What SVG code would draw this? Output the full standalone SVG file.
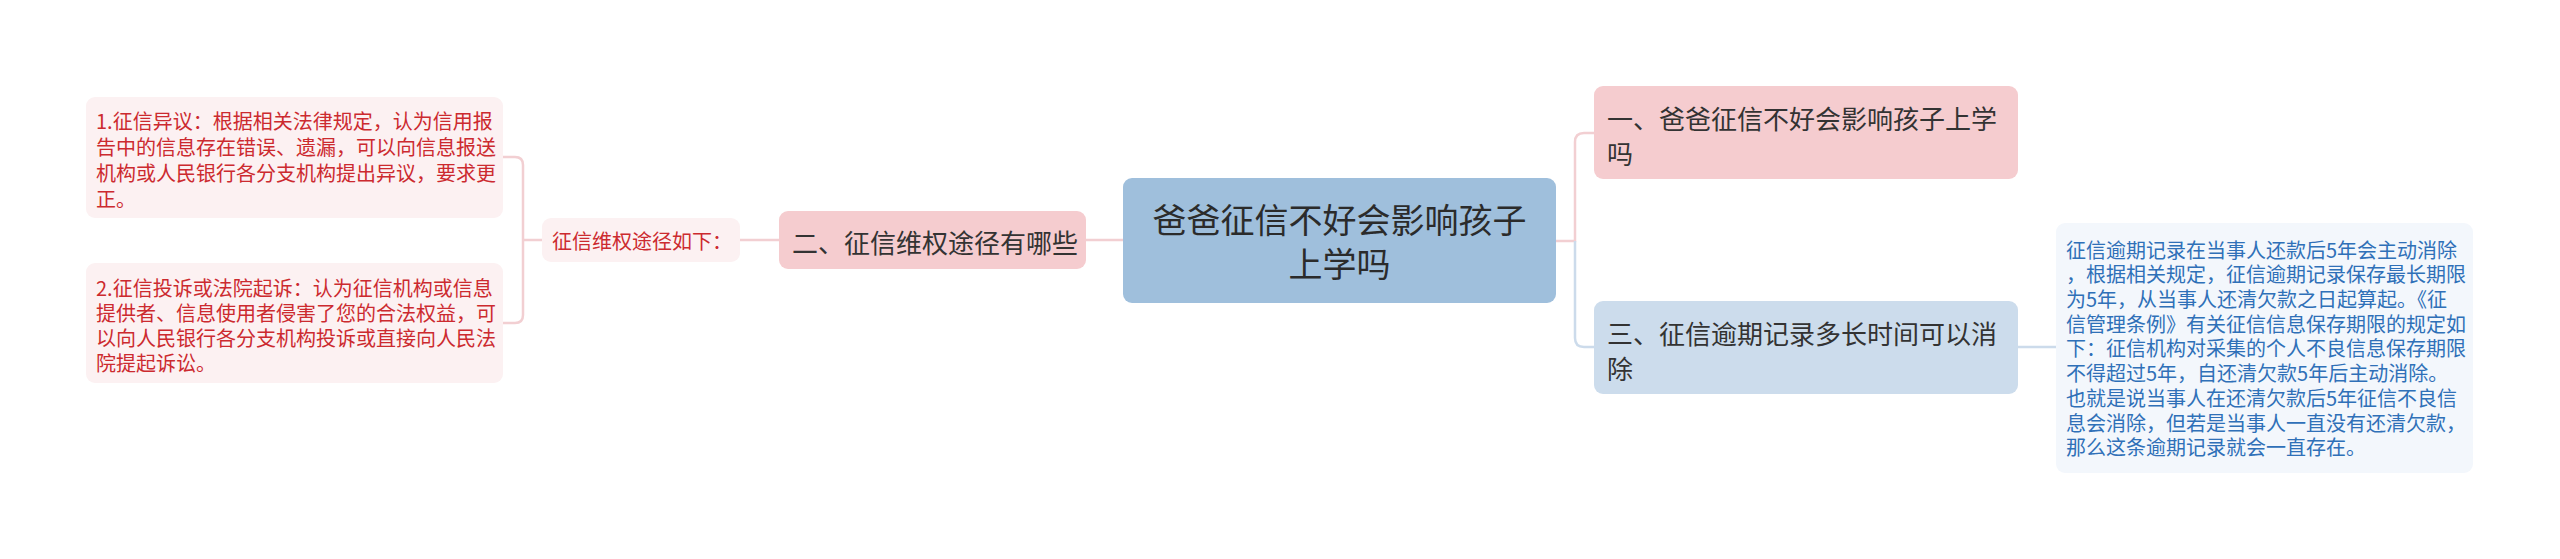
<svg xmlns="http://www.w3.org/2000/svg" width="2560" height="559" viewBox="0 0 2560 559">
<style>
text{font-family:"Noto Sans CJK SC","Noto Sans",sans-serif;dominant-baseline:central}
.conn{fill:none;stroke-width:2.5}
.pk{stroke:#f2cfd2}
.bl{stroke:#ccdbeb}
.leaf{fill:#fcf1f2}
.leaft{fill:#cc2a2f;font-size:20px}
.l1p{fill:#f5cccf}
.l1b{fill:#ccdcec}
.l1t{fill:#333333;font-size:26px}
.note{fill:#f3f7fc}
.notet{fill:#2f70b8;font-size:20px}
</style>
<rect width="2560" height="559" fill="#ffffff"/>
<g id="connectors">
<path class="conn pk" d="M1086 240 H1123"/>
<path class="conn pk" d="M740 240 H779"/>
<path class="conn pk" d="M503 157 H515 Q523 157 523 165 V315 Q523 323 515 323 H503"/>
<path class="conn pk" d="M523 240 H542"/>
<path class="conn pk" d="M1556 241 H1575 V142 Q1575 133 1584 133 H1594"/>
<path class="conn bl" d="M1575 241 V338 Q1575 347 1584 347 H1594"/>
<path class="conn bl" d="M2018 347 H2056"/>
</g>
<g id="root">
<rect x="1123" y="178" width="433" height="125" rx="9" fill="#9fbfdc"/>
<text x="1339.5" y="218" text-anchor="middle" fill="#2b2b2b" font-size="34">爸爸征信不好会影响孩子</text>
<text x="1339.5" y="262" text-anchor="middle" fill="#2b2b2b" font-size="34">上学吗</text>
</g>
<g id="node-yi">
<rect class="l1p" x="1594" y="86" width="424" height="93" rx="9"/>
<text class="l1t" x="1607" y="117">一、爸爸征信不好会影响孩子上学</text>
<text class="l1t" x="1607" y="152">吗</text>
</g>
<g id="node-san">
<rect class="l1b" x="1594" y="301" width="424" height="93" rx="9"/>
<text class="l1t" x="1607" y="332">三、征信逾期记录多长时间可以消</text>
<text class="l1t" x="1607" y="367">除</text>
</g>
<g id="node-er">
<rect class="l1p" x="779" y="211" width="307" height="58" rx="9"/>
<text class="l1t" x="792" y="241">二、征信维权途径有哪些</text>
</g>
<g id="node-mid">
<rect class="leaf" x="542" y="218" width="198" height="44" rx="9"/>
<text x="552" y="240" fill="#cc2a2f" font-size="20">征信维权途径如下：</text>
</g>
<g id="leaf-1">
<rect class="leaf" x="86" y="97" width="417" height="121" rx="9"/>
<text class="leaft" x="96" y="120">1.征信异议：根据相关法律规定，认为信用报</text>
<text class="leaft" x="96" y="146">告中的信息存在错误、遗漏，可以向信息报送</text>
<text class="leaft" x="96" y="172">机构或人民银行各分支机构提出异议，要求更</text>
<text class="leaft" x="96" y="198">正。</text>
</g>
<g id="leaf-2">
<rect class="leaf" x="86" y="263" width="417" height="120" rx="9"/>
<text class="leaft" x="96" y="287">2.征信投诉或法院起诉：认为征信机构或信息</text>
<text class="leaft" x="96" y="312">提供者、信息使用者侵害了您的合法权益，可</text>
<text class="leaft" x="96" y="337">以向人民银行各分支机构投诉或直接向人民法</text>
<text class="leaft" x="96" y="362">院提起诉讼。</text>
</g>
<g id="note">
<rect class="note" x="2056" y="223" width="417" height="250" rx="9"/>
<text class="notet" x="2066" y="249">征信逾期记录在当事人还款后5年会主动消除</text>
<text class="notet" x="2066" y="273">，根据相关规定，征信逾期记录保存最长期限</text>
<text class="notet" x="2066" y="298">为5年，从当事人还清欠款之日起算起。《征</text>
<text class="notet" x="2066" y="323">信管理条例》有关征信信息保存期限的规定如</text>
<text class="notet" x="2066" y="347">下：征信机构对采集的个人不良信息保存期限</text>
<text class="notet" x="2066" y="372">不得超过5年，自还清欠款5年后主动消除。</text>
<text class="notet" x="2066" y="397">也就是说当事人在还清欠款后5年征信不良信</text>
<text class="notet" x="2066" y="422">息会消除，但若是当事人一直没有还清欠款，</text>
<text class="notet" x="2066" y="446">那么这条逾期记录就会一直存在。</text>
</g>
</svg>
